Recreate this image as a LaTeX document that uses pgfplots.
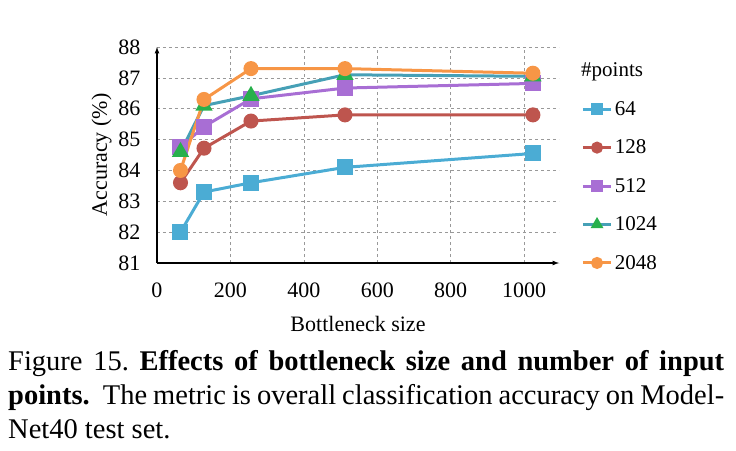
\documentclass[border=0pt]{standalone}
\usepackage{pgfplots}
\pgfplotsset{compat=1.18}
\usepackage{fontspec}
\setmainfont{Liberation Serif}
\definecolor{cA}{RGB}{75,172,212}
\definecolor{cB}{RGB}{190,85,78}
\definecolor{cC}{RGB}{168,110,212}
\definecolor{cD}{RGB}{70,160,182}
\definecolor{cDm}{RGB}{40,176,76}
\definecolor{cE}{RGB}{247,150,70}
\begin{document}
\frenchspacing
\begin{tikzpicture}
\begin{axis}[
  name=ax,
  scale only axis,
  width=402pt, height=216pt,
  xmin=0, xmax=1095, ymin=81, ymax=88,
  axis lines=left,
  axis line style={line width=1.2pt, -latex},
  xtick={0,200,400,600,800,1000},
  ytick={81,82,...,88},
  major tick length=0pt,
  grid=major,
  major grid style={dashed, gray!80, line width=0.6pt},
  /pgf/number format/assume math mode=true,
  /pgf/number format/set thousands separator={},
  tick label style={font=\fontsize{22}{26}\selectfont},
  yticklabel style={xshift=-13pt},
  xticklabel style={yshift=-16pt},
  xlabel={Bottleneck size},
  ylabel={Accuracy (\%)},
  label style={font=\fontsize{22}{26}\selectfont},
  xlabel style={yshift=-12pt},
  ylabel style={yshift=0pt},
  every axis plot/.append style={line width=3pt},
  legend style={draw=none, fill=none, at={(1.055,0.758)}, anchor=north west,
    font=\fontsize{21}{25}\selectfont, row sep=19pt, inner sep=0pt},
  legend cell align=left,
  legend image code/.code={\draw[mark repeat=2,mark phase=2,mark size=4.5pt,#1] plot coordinates {(0cm,0cm) (0.5cm,0cm) (1cm,0cm)};},
  legend style={/tikz/every even column/.append style={column sep=0pt}},
]
\addplot[cA, mark=square*, mark size=6.5pt] coordinates {(64,82.0) (128,83.3) (256,83.6) (512,84.1) (1024,84.55)};
\addlegendentry{64}
\addplot[cB, mark=*, mark size=6pt] coordinates {(64,83.6) (128,84.72) (256,85.6) (512,85.8) (1024,85.8)};
\addlegendentry{128}
\addplot[cC, mark=square*, mark size=6.5pt] coordinates {(64,84.75) (128,85.42) (256,86.32) (512,86.67) (1024,86.82)};
\addlegendentry{512}
\addplot[cD, mark=triangle*, mark size=7pt, mark options={cDm}] coordinates {(64,84.6) (128,86.1) (256,86.42) (512,87.1) (1024,87.05)};
\addlegendentry{1024}
\addplot[cE, mark=*, mark size=6pt] coordinates {(64,84.0) (128,86.3) (256,87.3) (512,87.3) (1024,87.15)};
\addlegendentry{2048}
\end{axis}
\node[anchor=west, font=\fontsize{21}{25}\selectfont, inner sep=0pt] at ([xshift=424pt,yshift=191pt]ax.south west) {\#points};
\node[anchor=north west, text width=716pt, align=justify, inner sep=0pt,
  font=\fontsize{28.5}{34}\selectfont] at ([xshift=-149pt,yshift=-87pt]ax.south west)
  {Figure 15. \textbf{Effects of bottleneck size and number of input points.}\hspace{0.25em} The metric is overall classification accuracy on Model-\linebreak Net40 test set.};
\pgfresetboundingbox
\path[use as bounding box] ([xshift=-157pt,yshift=263pt]ax.south west) rectangle ([xshift=579pt,yshift=-187pt]ax.south west);
\end{tikzpicture}
\end{document}
